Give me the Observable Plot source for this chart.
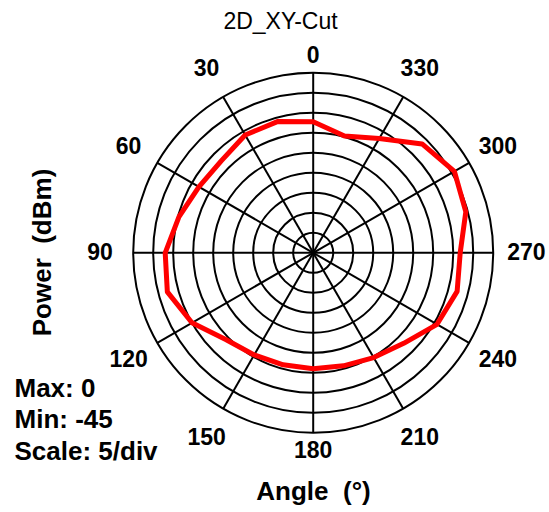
<!DOCTYPE html>
<html>
<head>
<meta charset="utf-8">
<script src="https://cdn.jsdelivr.net/npm/d3@7"></script>
<script src="https://cdn.jsdelivr.net/npm/@observablehq/plot@0.6"></script>
<style>
  html, body { margin: 0; padding: 0; background: #fff; }
  #chart svg { display: block; }
</style>
</head>
<body>
<div id="chart"></div>
<script>
// ---- data ----
const titleText = "2D_XY-Cut";
const angles = [0, 15, 30, 45, 60, 75, 90, 105, 120, 135, 150, 165, 180, 195, 210, 225, 240, 255, 270, 285, 300, 315, 330, 345];
const power = [-12.25, -11, -11, -12.5, -12, -10.25, -8, -7.25, -10, -14.25, -15.5, -16, -16, -15.75, -14.75, -13, -9.25, -7.75, -8.25, -5.5, -4.25, -6.5, -12, -14.75];
const spokeAngles = [0, 30, 60, 90, 120, 150, 180, 210, 240, 270, 300, 330];
const spokeLabels = ["0", "30", "60", "90", "120", "150", "180", "210", "240", "270", "300", "330"];
const maxVal = 0;
const minVal = -45;
const scaleStep = 5;
const ringLevels = d3.range(minVal + scaleStep, maxVal + scaleStep / 2, scaleStep);
const infoLines = ["Max: " + maxVal, "Min: " + minVal, "Scale: " + scaleStep + "/div"];
const radialTitle = "Power\u00a0 (dBm)";
const angleTitle = "Angle\u00a0 (°)";

// ---- layout ----
const W = 549, H = 512;
const cx = 312.7, cy = 252.3, pxPerUnit = 4; // 180px = 45 dB span
const span = maxVal - minVal;
const rad = a => a * Math.PI / 180;
const px = (r, a) => -r * Math.sin(rad(a));
const py = (r, a) => r * Math.cos(rad(a));
const font = "'Liberation Sans', Arial, sans-serif";
const infoY = [388, 419, 451];

const curve = angles.map((a, i) => ({angle: a, value: power[i]}));
const spokes = spokeAngles.map((a, i) => ({angle: a, label: spokeLabels[i]}));
const labelR = a => (a % 180 === 0 ? 49.4 : 53.3);

const chart = Plot.plot({
  width: W,
  height: H,
  margin: 0,
  style: {fontFamily: font, background: "#fff"},
  x: {domain: [-cx / pxPerUnit, (W - cx) / pxPerUnit], axis: null},
  y: {domain: [(cy - H) / pxPerUnit, cy / pxPerUnit], axis: null},
  r: {type: "linear", domain: [0, span], range: [0, span * pxPerUnit]},
  marks: [
    // rings
    Plot.dot(ringLevels, {x: () => 0, y: () => 0, r: d => d - minVal, stroke: "black", strokeWidth: 2, fill: "none"}),
    // spokes
    Plot.link(spokes, {x1: () => 0, y1: () => 0, x2: d => px(span, d.angle), y2: d => py(span, d.angle), stroke: "black", strokeWidth: 2}),
    // data curve
    Plot.line(curve, {x: d => px(d.value - minVal, d.angle), y: d => py(d.value - minVal, d.angle), curve: "linear-closed", stroke: "#ff0000", strokeWidth: 5, strokeLinejoin: "round"}),
    // angle labels
    Plot.text(spokes, {x: d => px(labelR(d.angle), d.angle), y: d => py(labelR(d.angle), d.angle), text: "label", fontSize: 23, fontWeight: "bold", fill: "black"}),
    // title
    Plot.text([titleText], {frameAnchor: "top", dx: 5.5, dy: 21, lineAnchor: "middle", fontSize: 23, fill: "black"}),
    // radial axis title
    Plot.text([radialTitle], {frameAnchor: "left", dx: 42, dy: -4, textAnchor: "middle", lineAnchor: "middle", rotate: -90, fontSize: 26, fontWeight: "bold", fill: "black"}),
    // angle axis title
    Plot.text([angleTitle], {frameAnchor: "bottom", dx: 38.5, dy: -21, textAnchor: "middle", lineAnchor: "middle", fontSize: 26, fontWeight: "bold", fill: "black"}),
    // info lines
    ...infoLines.map((t, i) => Plot.text([t], {frameAnchor: "top-left", textAnchor: "start", lineAnchor: "middle", dx: 14, dy: infoY[i], fontSize: 26, fontWeight: "bold", fill: "black"}))
  ]
});
document.getElementById("chart").append(chart);
</script>
</body>
</html>
